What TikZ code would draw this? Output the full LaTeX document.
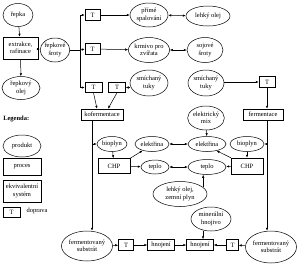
\documentclass[tikz,border=0pt]{standalone}
\usepackage{fontspec}
\setmainfont{Liberation Serif}
\usetikzlibrary{shapes.geometric,arrows.meta}
\newcommand\fsz{\fontsize{6.5}{7.3}\selectfont}
\begin{document}
\begin{tikzpicture}[x=1pt,y=-1pt,line width=0.5pt,
  prod/.style={ellipse,draw,inner sep=0pt,align=center,font=\fsz},
  proc/.style={rectangle,draw,inner sep=0pt,align=center,font=\fsz},
  tbox/.style={proc,minimum width=15pt,minimum height=11pt},
  ar/.style={-{Latex[length=3pt,width=2.4pt]}},
  dar/.style={{Latex[length=3pt,width=2.4pt]}-{Latex[length=3pt,width=2.4pt]}}]
\useasboundingbox[fill=white] (0,0) rectangle (300,269);
% top left chain
\node[prod,minimum width=30pt,minimum height=23pt] (repka) at (18,15) {řepka};
\node[proc,minimum width=35pt,minimum height=22pt] (extr) at (20.5,48) {extrakce,\\rafinace};
\node[prod,minimum width=38pt,minimum height=23pt] (olej) at (21,88) {řepkový\\olej};
\node[prod,minimum width=26pt,minimum height=24pt] (sroty) at (55,50) {řepkové\\šroty};
\coordinate (jm) at (80,50);
\coordinate (jt) at (80,15);
\coordinate (jb) at (80,87.5);
\node[tbox] (t1) at (92.5,15) {T};
\node[tbox] (t2) at (92.5,49) {T};
\node[tbox,minimum width=17pt,minimum height=10pt] (t3) at (93.5,87.5) {T};
\node[tbox,minimum width=17pt,minimum height=10pt] (t4) at (117,87.5) {T};
\node[prod,minimum width=38pt,minimum height=24pt] (spal) at (149,15) {přímé\\spalování};
\node[prod,minimum width=44pt,minimum height=20pt] (lehky) at (208,16) {lehký olej};
\node[prod,minimum width=38pt,minimum height=25pt] (krmivo) at (149,50) {krmivo pro\\zvířata};
\node[prod,minimum width=36pt,minimum height=25pt] (sojove) at (205,50) {sojové\\šroty};
\node[prod,minimum width=38pt,minimum height=26pt] (smich1) at (149,83) {smíchaný\\tuky};
\node[prod,minimum width=36pt,minimum height=26pt] (smich2) at (206,83) {smíchaný\\tuky};
\node[tbox,minimum width=16pt] (t5) at (267,82) {T};
\node[proc,minimum width=40pt,minimum height=11pt] (ferm) at (263,114.5) {fermentace};
\node[proc,minimum width=42pt,minimum height=11pt] (kof) at (102,114.5) {kofermentace};
\coordinate (kl) at (92,120);
% middle
\node[prod,minimum width=30pt,minimum height=15pt] (bio1) at (112,144) {bioplyn};
\node[proc,minimum width=32pt,minimum height=15pt] (chp1) at (114,166) {CHP};
\node[prod,minimum width=34pt,minimum height=15pt] (el1) at (152,144) {elektřina};
\node[prod,minimum width=28pt,minimum height=14pt] (tep1) at (155,167) {teplo};
\node[prod,minimum width=38pt,minimum height=15pt] (el2) at (207,144) {elektřina};
\node[prod,minimum width=38pt,minimum height=15pt] (tep2) at (207,167) {teplo};
\node[prod,minimum width=36pt,minimum height=24pt] (mix) at (206,118) {elektrický\\mix};
\node[prod,minimum width=54pt,minimum height=25pt] (plyn) at (180,194) {lehký olej,\\zemní plyn};
\node[prod,minimum width=34pt,minimum height=15pt] (bio2) at (247,144) {bioplyn};
\node[proc,minimum width=32pt,minimum height=16pt] (chp2) at (247,166) {CHP};
% bottom
\node[prod,minimum width=40pt,minimum height=24pt] (miner) at (211,219) {minerální\\hnojivo};
\node[prod,minimum width=48pt,minimum height=30pt] (ferm1) at (87,246) {fermentovaný\\substrát};
\node[prod,minimum width=50pt,minimum height=32pt] (ferm2) at (271,247) {fermentovaný\\substrát};
\node[tbox] (t6) at (126,245) {T};
\node[proc,minimum width=27pt,minimum height=11pt] (hn1) at (161,245) {hnojení};
\node[proc,minimum width=27pt,minimum height=11pt] (hn2) at (200,245) {hnojení};
\node[tbox,minimum width=12pt] (t7) at (232.5,245) {T};
% legend
\node[font=\fsz\bfseries,anchor=west,inner sep=0pt] (leg) at (3,119) {Legenda:};
\node[prod,minimum width=38pt,minimum height=22pt] (lp) at (22,146) {produkt};
\node[proc,minimum width=38pt,minimum height=17pt] (lpr) at (22,167) {proces};
\node[proc,minimum width=38pt,minimum height=22pt] (lek) at (22,191) {ekvivalentní\\systém};
\node[tbox,minimum width=17pt,minimum height=10pt] (lt) at (11.5,212) {T};
\node[font=\fsz,inner sep=0pt] (ldop) at (37,211) {doprava};
% connectors
\draw[ar] (repka) -- (extr);
\draw[ar] (extr) -- (olej);
\draw[ar] (extr) -- (sroty);
\draw (sroty.east) -- (jm);
\draw (jt) -- (jb);
\draw[ar] (jt) -- (t1.west);
\draw[ar] (jm) -- (t2.west);
\draw[ar] (jb) -- (t3.west);
\draw[ar] (t1) -- (spal);
\draw[ar] (t2) -- (krmivo);
\draw[dar] (spal) -- (lehky);
\draw[dar] (krmivo) -- (sojove);
\draw[ar] (smich1.west |- t4.east) -- (t4.east);
\draw[ar] (t3.south) -- ([xshift=-5pt]kof.north);
\draw[ar] (t4.south) -- ([xshift=6pt]kof.north);
\draw[ar] (smich2.east |- t5.west) -- (t5.west);
\draw[ar] (t5.south) -- (t5.south |- ferm.north);
\draw[ar] (t5.south |- ferm.south) -- (t5.south |- ferm2.north);
\draw[ar] (t5.south |- bio2.east) -- (bio2.east);
\draw[ar] (kl) -- (kl |- ferm1.north);
\draw[ar] (kl |- bio1.west) -- (bio1.west);
\draw[ar] (bio1) -- (chp1);
\draw[ar] (bio2) -- (chp2);
\draw[ar] (chp1.north east) -- (el1.215);
\draw[ar] (chp1) -- (tep1);
\draw[ar] (chp2.north west) -- (el2.325);
\draw[ar] (chp2) -- (tep2);
\draw[dar] (el1) -- (el2);
\draw[dar] (tep1) -- (tep2);
\draw[ar] (mix) -- (el2);
\draw[ar] (plyn.16) -- (plyn.16 |- tep2.south);
\draw[ar] ([xshift=3pt]hn2.north |- miner.south) -- ([xshift=3pt]hn2.north);
\draw[ar] (ferm1) -- (t6);
\draw[ar] (t6) -- (hn1);
\draw[ar] (hn1) -- (hn2);
\draw[ar] (t7) -- (hn2);
\draw[ar] (ferm2) -- (t7);
\end{tikzpicture}
\end{document}
